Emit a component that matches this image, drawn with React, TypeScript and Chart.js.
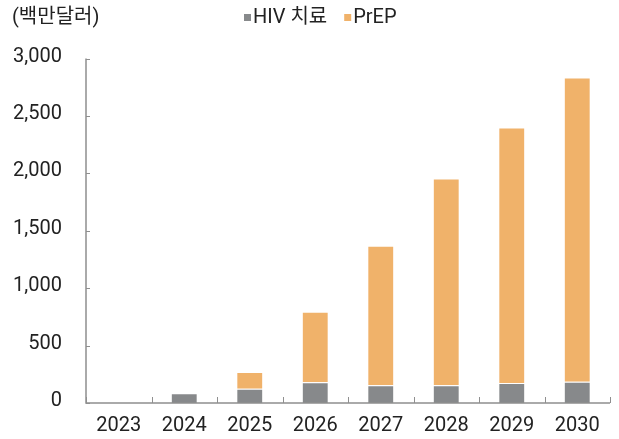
import React, { useEffect, useRef } from "react";
import { Chart, registerables } from "chart.js";

Chart.register(...registerables);

const categories = ["2023", "2024", "2025", "2026", "2027", "2028", "2029", "2030"];
const hivTreatment = [0, 85, 125, 180, 155, 155, 175, 185];
const prep = [0, 0, 145, 615, 1215, 1800, 2225, 2650];
const yTicks = [0, 500, 1000, 1500, 2000, 2500, 3000];
const unitLabel = "(백만달러)";
const seriesNames = ["HIV 치료", "PrEP"];
const seriesColors = ["#87898b", "#f0b26a"];

const FONT = "Roboto, 'Noto Sans CJK KR', sans-serif";
const AXIS_COLOR = "#8f8f8f";

const decorPlugin = {
  id: "decor",
  afterDraw(chart: any) {
    const ctx = chart.ctx;
    const { left, right, top, bottom } = chart.chartArea;
    const y = chart.scales.y;
    ctx.save();
    ctx.strokeStyle = AXIS_COLOR;
    ctx.lineWidth = 1.5;
    ctx.beginPath();
    ctx.moveTo(left, top);
    ctx.lineTo(left, bottom);
    ctx.lineTo(right, bottom);
    ctx.stroke();
    ctx.lineWidth = 1;
    y.ticks.forEach((t: any) => {
      const py = Math.round(y.getPixelForValue(t.value)) + 0.5;
      ctx.beginPath();
      ctx.moveTo(left, py);
      ctx.lineTo(left + 4, py);
      ctx.stroke();
    });
    const n = categories.length;
    const step = (right - left) / n;
    for (let i = 0; i <= n; i++) {
      const px = Math.round(left + step * i) + 0.5;
      ctx.beginPath();
      ctx.moveTo(px, bottom);
      ctx.lineTo(px, bottom - 6);
      ctx.stroke();
    }
    ctx.fillStyle = "#222";
    ctx.font = `20px ${FONT}`;
    ctx.textBaseline = "middle";
    ctx.textAlign = "left";
    ctx.fillText(unitLabel, 12, 18);
    let lx = 244;
    seriesNames.forEach((name, i) => {
      ctx.fillStyle = seriesColors[i];
      ctx.fillRect(lx, 14, 7, 7);
      ctx.fillStyle = "#222";
      ctx.fillText(name, lx + 9, 18);
      lx += 9 + ctx.measureText(name).width + 17;
    });
    ctx.restore();
  },
};

export default function App() {
  const ref = useRef<HTMLCanvasElement | null>(null);
  useEffect(() => {
    if (!ref.current) return;
    const chart = new Chart(ref.current, {
      type: "bar",
      data: {
        labels: categories,
        datasets: [
          {
            label: seriesNames[0],
            data: hivTreatment,
            backgroundColor: seriesColors[0],
            borderColor: "#ffffff",
            borderWidth: 1,
          },
          {
            label: seriesNames[1],
            data: prep,
            backgroundColor: seriesColors[1],
            borderColor: "#ffffff",
            borderWidth: 1,
          },
        ],
      },
      options: {
        animation: false,
        responsive: false,
        maintainAspectRatio: false,
        layout: { padding: { left: 0, right: 9, top: 58.5, bottom: 0 } },
        plugins: {
          legend: { display: false },
          title: { display: false },
          tooltip: { enabled: false },
        },
        datasets: { bar: { categoryPercentage: 1, barPercentage: 0.41 } },
        scales: {
          x: {
            stacked: true,
            afterFit: (s: any) => {
              s.height = 35.5;
            },
            grid: { display: false, drawTicks: false },
            border: { display: false },
            ticks: {
              color: "#222",
              font: { family: FONT, size: 20 },
              padding: 11,
              maxRotation: 0,
            },
          },
          y: {
            stacked: true,
            min: 0,
            max: 3000,
            afterFit: (s: any) => {
              s.width = 86;
            },
            afterBuildTicks: (s: any) => {
              s.ticks = yTicks.map((v) => ({ value: v }));
            },
            grid: { display: false, drawTicks: false },
            border: { display: false },
            ticks: {
              color: "#222",
              font: { family: FONT, size: 20 },
              padding: 24,
              labelOffset: -2,
              callback: (v: any) => Number(v).toLocaleString("en-US"),
            },
          },
        },
      },
      plugins: [decorPlugin],
    });
    return () => chart.destroy();
  }, []);
  return (
    <div style={{ position: "absolute", left: 0, top: 0, width: 619, height: 439, background: "#fff" }}>
      <canvas ref={ref} width={619} height={439} style={{ display: "block" }} />
    </div>
  );
}
